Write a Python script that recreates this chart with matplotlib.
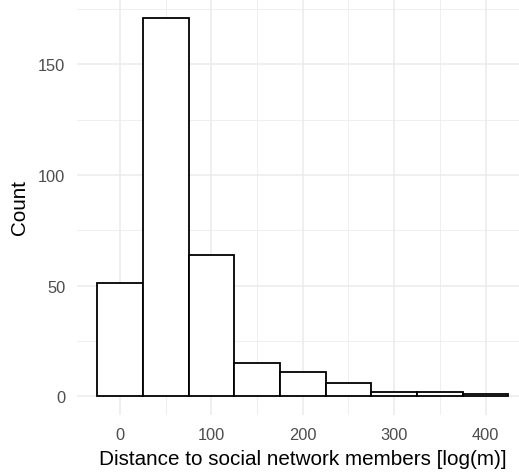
import matplotlib
matplotlib.use("Agg")
import matplotlib.pyplot as plt
import numpy as np

bin_centers = [0, 50, 100, 150, 200, 250, 300, 350, 400]
counts = [51, 171, 64, 15, 11, 6, 2, 2, 1]
bin_width = 50
x_ticks = [0, 100, 200, 300, 400]
y_ticks = [0, 50, 100, 150]
x_label = "Distance to social network members [log(m)]"
y_label = "Count"

plt.rcParams['font.family'] = ['Liberation Sans', 'DejaVu Sans']

fig = plt.figure(figsize=(5.19, 4.77), dpi=100)
W, H = 519, 477
# panel in pixel coordinates
x0px, x1px = 76.6, 529
y_top, y_bot = 0, 416
ax = fig.add_axes([x0px / W, (H - y_bot) / H, (x1px - x0px) / W, (y_bot - y_top) / H])

ax.bar(bin_centers, counts, width=bin_width, color='white', edgecolor='black',
       linewidth=1.3, zorder=3)

lo = bin_centers[0] - bin_width / 2
hi = bin_centers[-1] + bin_width / 2
ex = (hi - lo) * 0.05
ax.set_xlim(lo - ex, hi + ex)
ymax = max(counts)
ax.set_ylim(-ymax * 0.05, ymax * 1.05)

ax.set_xticks(x_ticks)
ax.set_yticks(y_ticks)
ax.set_xticks([50, 150, 250, 350], minor=True)
ax.set_yticks([25, 75, 125, 175], minor=True)
ax.grid(True, which='major', color='#EBEBEB', linewidth=1.1, zorder=0)
ax.grid(True, which='minor', color='#EBEBEB', linewidth=0.55, zorder=0)
ax.set_axisbelow(True)
for s in ax.spines.values():
    s.set_visible(False)
ax.tick_params(which='both', length=0, labelsize=11.8, labelcolor='#4D4D4D')
ax.tick_params(axis='x', pad=9)
ax.tick_params(axis='y', pad=8)
ax.set_xlabel(x_label, fontsize=14.9, color='black', labelpad=5)
ax.set_ylabel(y_label, fontsize=14.9, color='black', labelpad=7)

fig.savefig("out.png", dpi=100)
